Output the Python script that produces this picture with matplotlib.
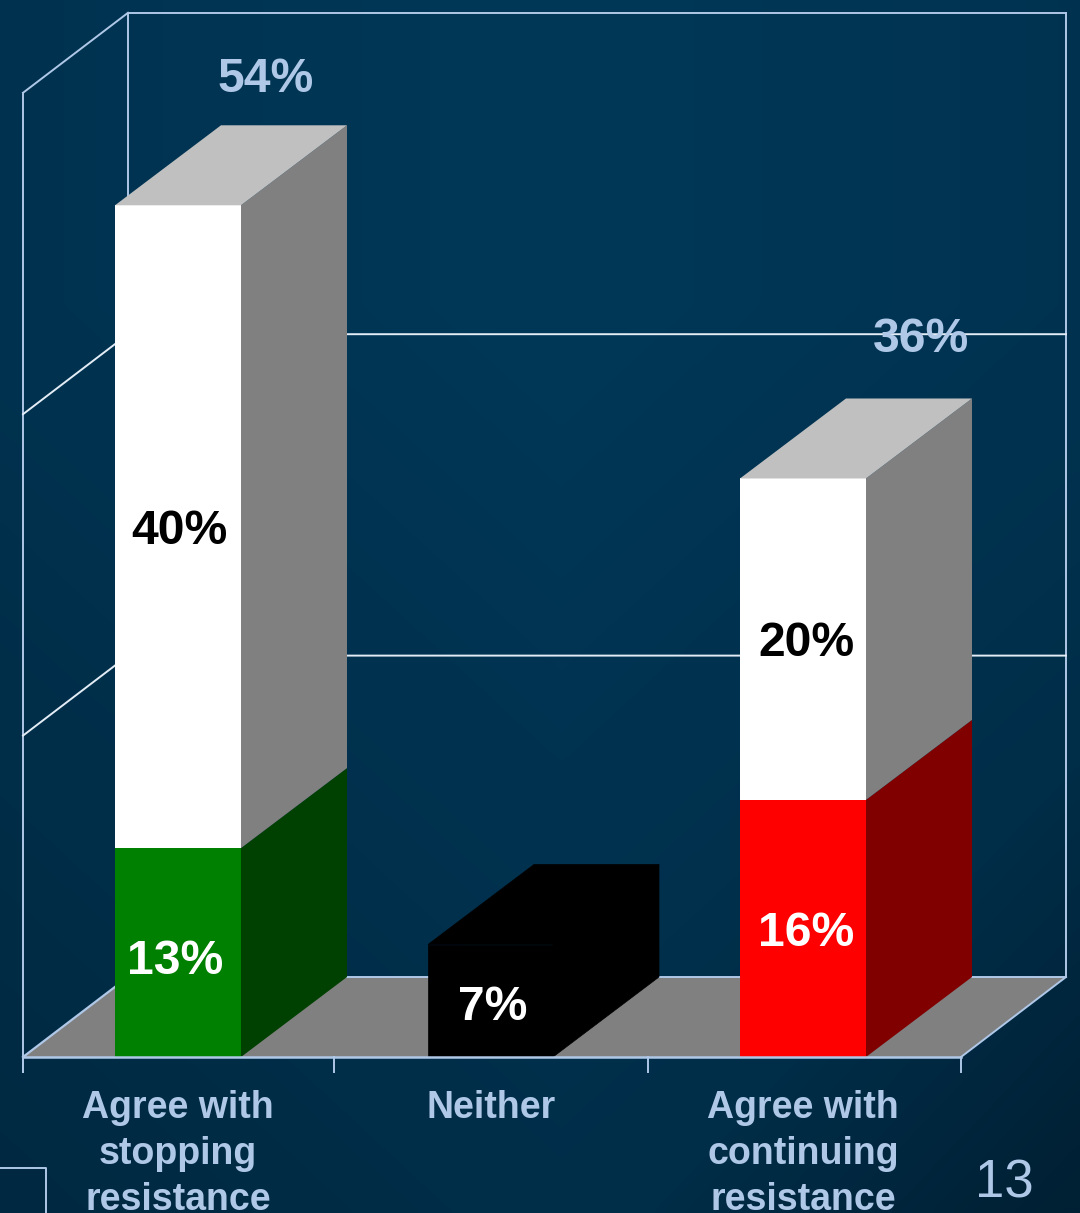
import numpy as np
import matplotlib
matplotlib.use('Agg')
import matplotlib.pyplot as plt
from matplotlib.patches import Polygon

categories = ['Agree with\nstopping\nresistance', 'Neither', 'Agree with\ncontinuing\nresistance']
lower = [13, 7, 16]
upper = [40, 0, 20]
totals = ['54%', None, '36%']
lower_colors = ['#008000', '#000000', '#ff0000']
lower_side = ['#004000', '#000000', '#800000']
lower_labels = ['13%', '7%', '16%']
upper_labels = ['40%', None, '20%']
gridvals = [20, 40, 60]

plt.rcParams['font.family'] = ['Liberation Sans', 'DejaVu Sans']
fig = plt.figure(figsize=(10.8, 12.13), dpi=100)
ax = fig.add_axes([0, 0, 1, 1])
ax.set_xlim(0, 1080)
ax.set_ylim(1213, 0)
ax.axis('off')

# background gradient
nx, ny = 216, 243
X, Y = np.meshgrid(np.linspace(0, 1, nx), np.linspace(0, 1, ny))
t = np.clip(np.abs(X - 0.52) * 0.45 + np.clip(Y - 0.25, 0, 1) * 0.55 + np.clip(X + Y - 1.6, 0, 1) * 1.0, 0, 1)
c0 = np.array([0x00, 0x38, 0x58]) / 255
c1 = np.array([0x00, 0x20, 0x34]) / 255
img = c0[None, None, :] * (1 - t[..., None]) + c1[None, None, :] * t[..., None]
ax.imshow(img, extent=[0, 1080, 1213, 0], aspect='auto', zorder=0, interpolation='bilinear')

LINE = '#b0c8e8'
GRID = '#e4edf6'
TXT = '#b0c8e8'
# 3D mapping
base_y = 1057
unit = 16.07
dx, dy = 105, -80
x0, x1 = 23, 961


def vy(v):
    return base_y - v * unit


# floor
ax.add_patch(Polygon([(x0, base_y), (x0 + dx, base_y + dy), (x1 + dx, base_y + dy), (x1, base_y)],
                     fc='#808080', ec='none', zorder=1))
ax.plot([x0 + dx, x1 + dx], [base_y + dy, base_y + dy], color=LINE, lw=1.4, zorder=1)
# walls
top = vy(60)
ax.plot([x0 + dx, x0 + dx, x1 + dx], [base_y + dy, top + dy, top + dy], color=LINE, lw=1.4, zorder=1)
ax.plot([x1 + dx, x1 + dx], [top + dy, base_y + dy], color=LINE, lw=1.4, zorder=1)
ax.plot([x0, x0 + dx], [top, top + dy], color=LINE, lw=1.4, zorder=1)
ax.plot([x0, x0], [base_y + 15, top], color=LINE, lw=1.4, zorder=1)
for g in gridvals[:2]:
    y = vy(g)
    ax.plot([x0, x0 + dx, x1 + dx], [y, y + dy, y + dy], color=GRID, lw=1.4, zorder=1)
ax.plot([x0, x0 + dx], [base_y, base_y + dy], color=LINE, lw=1.6, zorder=1)
ax.plot([x0, x1], [base_y, base_y], color=LINE, lw=1.8, zorder=4)
ax.plot([x1, x1 + dx], [base_y, base_y + dy], color=LINE, lw=1.4, zorder=1)
for xt in [23, 334, 648, 961]:
    ax.plot([xt, xt], [base_y, base_y + 15], color=LINE, lw=1.4, zorder=1)

bar_lefts = [115, 428, 740]
bar_w = 126
for i, cat in enumerate(categories):
    l = bar_lefts[i]
    r = l + bar_w - (1 if i == 1 else 0)
    y0, y1 = vy(0), vy(lower[i])
    ec = 'black' if i == 1 else 'none'
    ax.add_patch(Polygon([(l, y0), (r, y0), (r, y1), (l, y1)], fc=lower_colors[i], ec=ec, lw=0.5, zorder=3))
    ax.add_patch(Polygon([(r, y0), (r + dx + 1, y0 + dy), (r + dx + 1, y1 + dy), (r, y1)], fc=lower_side[i], ec=ec, lw=0.5, zorder=3))
    ytop = y1
    if upper[i]:
        y2 = vy(lower[i] + upper[i])
        ax.add_patch(Polygon([(l, y1), (r, y1), (r, y2), (l, y2)], fc='white', ec='none', zorder=3))
        ax.add_patch(Polygon([(r, y1), (r + dx + 1, y1 + dy), (r + dx + 1, y2 + dy), (r, y2)], fc='#808080', ec='none', zorder=3))
        ytop = y2
    ax.add_patch(Polygon([(l, ytop), (r, ytop), (r + dx + 1, ytop + dy), (l + dx + 1, ytop + dy)],
                         fc='#c0c0c0' if upper[i] else '#000000', ec=ec, lw=0.5, zorder=3))

# value labels
fs = 34.6
lab_lower = [(175, 962), (493, 1007), (806, 934)]
for (x, y), s in zip(lab_lower, lower_labels):
    ax.text(x, y, s, color='white', fontsize=fs, fontweight='bold', ha='center', va='center', zorder=5)
lab_upper = [(179, 531), None, (806, 643)]
for p, s in zip(lab_upper, upper_labels):
    if p:
        ax.text(p[0], p[1], s, color='black', fontsize=fs, fontweight='bold', ha='center', va='center', zorder=5)
lab_tot = [(266, 79), None, (921, 339)]
for p, s in zip(lab_tot, totals):
    if p:
        ax.text(p[0], p[1], s, color=TXT, fontsize=fs, fontweight='bold', ha='center', va='center', zorder=5)

# category labels
cat_x = [178, 491, 803]
for x, s in zip(cat_x, categories):
    for j, line in enumerate(s.split('\n')):
        ax.text(x, 1108 + j * 46, line, color=TXT, fontsize=27, fontweight='bold', ha='center', va='center', zorder=5)

# slide furniture
ax.text(1004, 1184, '13', color=TXT, fontsize=38, ha='center', va='center', zorder=5)
ax.plot([0, 46, 46], [1168, 1168, 1213], color=LINE, lw=1.4, zorder=2)

fig.savefig('out.png', dpi=100)
